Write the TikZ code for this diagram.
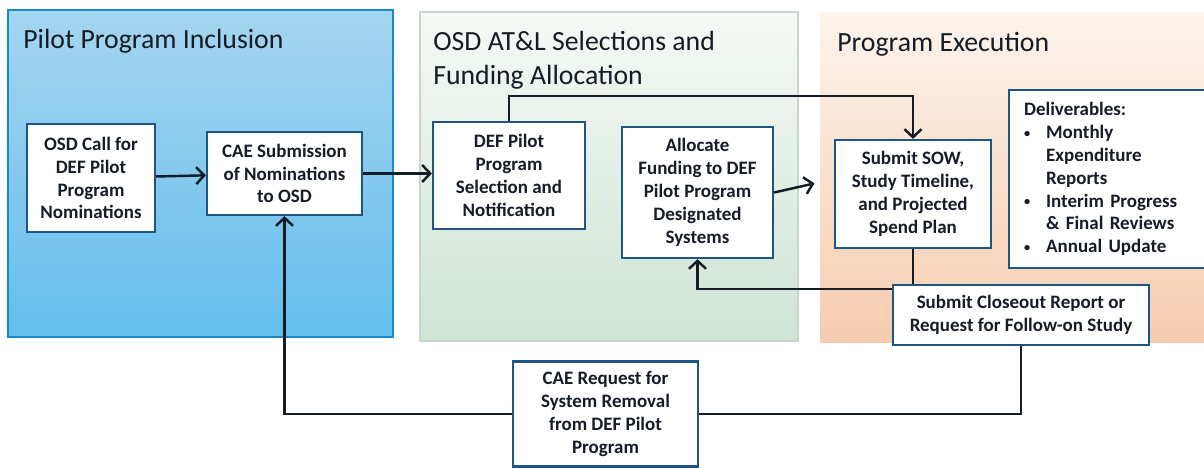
\documentclass[tikz,border=0pt]{standalone}
\usepackage{fontspec}
\setmainfont{Carlito}
\usetikzlibrary{positioning,arrows.meta}
\definecolor{boxblue}{RGB}{30,85,130}
\definecolor{ink}{RGB}{22,28,38}
\definecolor{bluetop}{RGB}{165,213,240}
\definecolor{bluemid}{RGB}{180,222,245}
\definecolor{bluebot}{RGB}{100,190,236}
\definecolor{blueedge}{RGB}{20,140,200}
\definecolor{greentop}{RGB}{246,249,246}
\definecolor{greenbot}{RGB}{205,228,213}
\definecolor{greenedge}{RGB}{200,215,205}
\definecolor{peachtop}{RGB}{252,244,236}
\definecolor{peachbot}{RGB}{246,204,176}
\newcommand{\dbul}{\makebox[0.44cm][l]{\raisebox{0.15ex}{\scalebox{0.65}{\textbullet}}}}
\newcommand{\dind}{\hspace*{0.44cm}}

\begin{document}
\begin{tikzpicture}[x=0.02cm,y=-0.02cm,
  box/.style={draw=boxblue,line width=1.3pt,fill=white,align=center,text=ink,
    font=\bfseries\fontsize{10.8}{13}\selectfont,inner sep=1pt},
  paneltitle/.style={anchor=north west,text=ink,align=left,inner sep=0pt,
    font=\fontsize{15.8}{19}\selectfont},
  link/.style={draw=ink,line width=1.4pt},
  arr/.style={link,-{Straight Barb[length=1.6mm,width=3.4mm]}}]
\useasboundingbox (0,0) rectangle (1204,467);

% the three phases
\shade[top color=bluetop,middle color=bluemid,bottom color=bluebot,draw=blueedge,line width=0.8pt] (8,10) rectangle (393,337);
\shade[top color=greentop,bottom color=greenbot,draw=greenedge,line width=0.6pt] (420,12) rectangle (798,341);
\shade[top color=peachtop,bottom color=peachbot] (820,12) rectangle (1210,342);

\node[paneltitle] (incl) at (23,29) {Pilot Program Inclusion};
\node[paneltitle] (osd) at (433,31) {OSD AT\&L Selections and\\Funding Allocation};
\node[paneltitle] (exec) at (837,32) {Program Execution};

% steps
\node[box,minimum width=2.56cm,minimum height=2.16cm] (call) at (91,178) {OSD Call for\\DEF Pilot\\Program\\Nominations};
\node[box,minimum width=3.1cm,minimum height=1.66cm] (submit) at (284.5,173.5) {CAE Submission\\of Nominations\\to OSD};
\node[box,minimum width=3.04cm,minimum height=2.14cm] (select) at (509,175.5) {DEF Pilot\\Program\\Selection and\\Notification};
\node[box,minimum width=3.02cm,minimum height=2.62cm] (alloc) at (697.5,192.5) {Allocate\\Funding to DEF\\Pilot Program\\Designated\\Systems};
\node[box,minimum width=3.12cm,minimum height=2.16cm] (sow) at (913,194) {Submit SOW,\\Study Timeline,\\and Projected\\Spend Plan};
\node[box,anchor=north west,align=left,text width=3.7cm,minimum height=3.56cm,inner xsep=0.3cm] (deliv) at (1008,89)
  {Deliverables:\\
   \dbul Monthly\\
   \dind Expenditure\\
   \dind Reports\\
   \dbul Interim Progress\\
   \dind \& Final Reviews\\
   \dbul Annual Update};
\node[box,minimum width=5.12cm,minimum height=1.2cm] (closeout) at (1021,315) {Submit Closeout Report or\\Request for Follow-on Study};
\node[box,minimum width=3.7cm,minimum height=2.1cm] (removal) at (605.5,414) {CAE Request for\\System Removal\\from DEF Pilot\\Program};

% connectors
\draw[arr] (call) -- (submit);
\draw[arr] (submit.east) -- (submit.east -| select.west);
\draw[arr] (select.north) -- ++(0,-25) -| (sow.north);
\draw[arr,shorten >=0.4cm] (alloc.east) -- ([yshift=0.3cm]sow.west);
\draw[link] (sow.south) -- (sow.south |- closeout.north);
\draw[arr] ([yshift=-0.1cm]closeout.north west) -| (alloc.south);
\draw[link] (closeout.south) |- (removal.east);
\draw[arr] (removal.west) -| (submit.south);
\end{tikzpicture}
\end{document}
